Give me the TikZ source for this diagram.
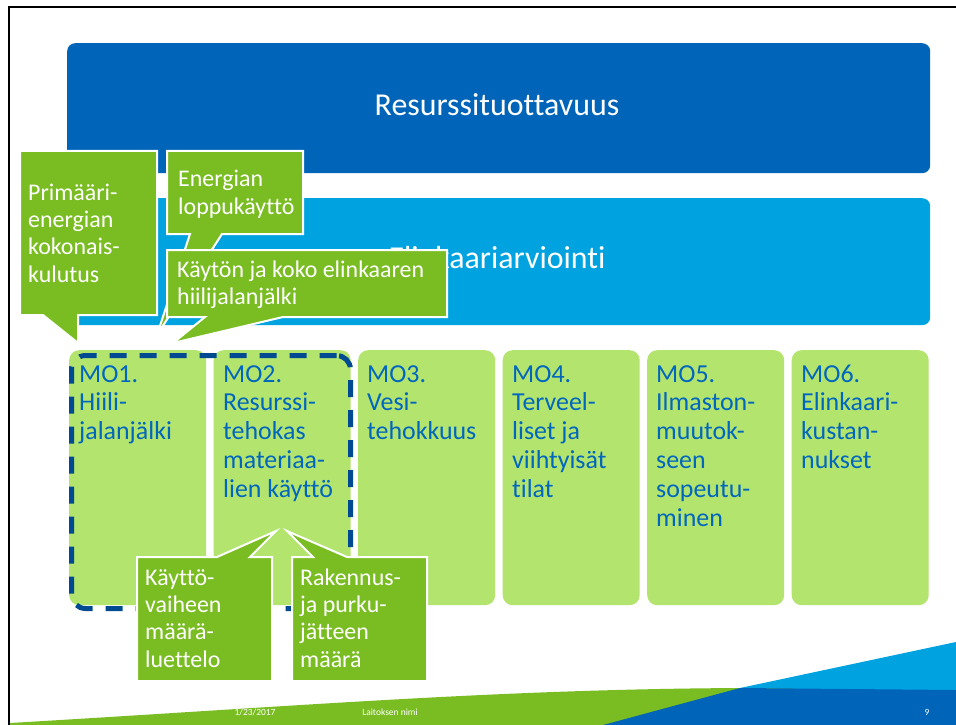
\documentclass[tikz,border=0pt]{standalone}
\usepackage{fontspec}
\setmainfont[Ligatures={NoCommon}]{Carlito}
\definecolor{dblue}{RGB}{0,100,185}
\definecolor{lblue}{RGB}{0,163,224}
\definecolor{mogreen}{RGB}{178,228,110}
\definecolor{cgreen}{RGB}{122,189,34}
\definecolor{dashblue}{RGB}{0,74,145}
\definecolor{motext}{RGB}{0,102,190}
\newcommand\lns[1]{\begin{tabular}[t]{@{}l@{}}#1\end{tabular}}
\begin{document}
\begin{tikzpicture}[x=1bp,y=-1bp,
  bigbox/.style={anchor=north west, inner sep=0, minimum width=863bp, minimum height=#1, rounded corners=8bp},
  mobox/.style={anchor=north west, inner sep=0, fill=mogreen, minimum width=137bp, minimum height=255bp, rounded corners=10bp},
  motxt/.style={anchor=base west, inner sep=0, text=motext, font=\fontsize{26}{29}\selectfont},
  ctxt/.style={anchor=base west, inner sep=0, text=white, font=\fontsize{24}{27.5}\selectfont},
  callout/.style={fill=cgreen, draw=white, line width=2bp, line join=miter},
  foot/.style={inner sep=0, anchor=base, text=white, font=\fontsize{9.5}{11}\selectfont}]
\useasboundingbox (0,0) rectangle (956,725);
\fill[white] (0,0) rectangle (956,725);
% frame
\draw[black, line width=2.5bp] (9,725) -- (9,7) -- (956,7);
% blue bars
\node[bigbox=130bp, fill=dblue] (res) at (67,43) {};
\node[inner sep=0, anchor=base, text=white, font=\fontsize{32}{36}\selectfont] (restxt) at (497,116) {Resurssituottavuus};
\node[bigbox=127bp, fill=lblue] (elk) at (67,198) {};
\node[inner sep=0, anchor=base, text=white, font=\fontsize{32}{36}\selectfont] (elktxt) at (497,268) {Elinkaariarviointi};
% MO boxes
\node[mobox] (mo1) at (69,350) {};
\node[mobox] (mo2) at (213.5,350) {};
\node[mobox] (mo3) at (358,350) {};
\node[mobox] (mo4) at (502.5,350) {};
\node[mobox] (mo5) at (647,350) {};
\node[mobox] (mo6) at (791.5,350) {};
\node[motxt] (t1) at (79,382) {\lns{MO1.\\Hiili-\\jalanjälki}};
\node[motxt] (t2) at (223,382) {\lns{MO2.\\Resurssi-\\tehokas\\materiaa-\\lien käyttö}};
\node[motxt] (t3) at (367,382) {\lns{MO3.\\Vesi-\\tehokkuus}};
\node[motxt] (t4) at (512,382) {\lns{MO4.\\Terveel-\\liset ja\\viihtyisät\\tilat}};
\node[motxt] (t5) at (656,382) {\lns{MO5.\\Ilmaston-\\muutok-\\seen\\sopeutu-\\minen}};
\node[motxt] (t6) at (801,382) {\lns{MO6.\\Elinkaari-\\kustan-\\nukset}};
% dashed group
\node[anchor=north west, inner sep=0, minimum width=279bp, minimum height=253bp, draw=dashblue, line width=5bp, dash pattern=on 17bp off 13bp, rounded corners=14bp] (grp) at (69,353) {};
% top callouts
\filldraw[callout] (20,151) -- (157,151) -- (157,315) -- (78,315) -- (78,343) -- (43,315) -- (20,315) -- cycle;
\node[ctxt] (c1) at (28,200) {\lns{Primääri-\\energian\\kokonais-\\kulutus}};
\filldraw[callout] (167,151) -- (303,151) -- (303,234) -- (222,234) -- (157,335) -- (190,234) -- (167,234) -- cycle;
\node[ctxt] (c2) at (178,187) {\lns{Energian\\loppukäyttö}};
\filldraw[callout] (167,250) -- (447,250) -- (447,317) -- (283,317) -- (173,343) -- (205,317) -- (167,317) -- cycle;
\node[ctxt] (c3) at (177,277) {\lns{Käytön ja koko elinkaaren\\hiilijalanjälki}};
% bottom callouts
\filldraw[callout] (137,557) -- (217,557) -- (276,531) -- (250,557) -- (272,557) -- (272,681) -- (137,681) -- cycle;
\node[ctxt] (c4) at (145,585) {\lns{Käyttö-\\vaiheen\\määrä-\\luettelo}};
\filldraw[callout] (292,557) -- (313,557) -- (287,531) -- (347,557) -- (427,557) -- (427,681) -- (292,681) -- cycle;
\node[ctxt] (c5) at (300,585) {\lns{Rakennus-\\ja purku-\\jätteen\\määrä}};
% footer band
\fill[cgreen] (10,723) .. controls (300,706) and (500,689) .. (745,688) -- (956,688) -- (956,725) -- (10,725) -- cycle;
\fill[lblue] (740,688) -- (956,642) -- (956,691) -- cycle;
\fill[dblue] (603,725) -- (740,688) -- (956,690) -- (956,725) -- cycle;
\node[foot] (date) at (255,715) {1/23/2017};
\node[foot] (dept) at (390,715) {Laitoksen nimi};
\node[foot] (page) at (927,715) {9};
\end{tikzpicture}
\end{document}
